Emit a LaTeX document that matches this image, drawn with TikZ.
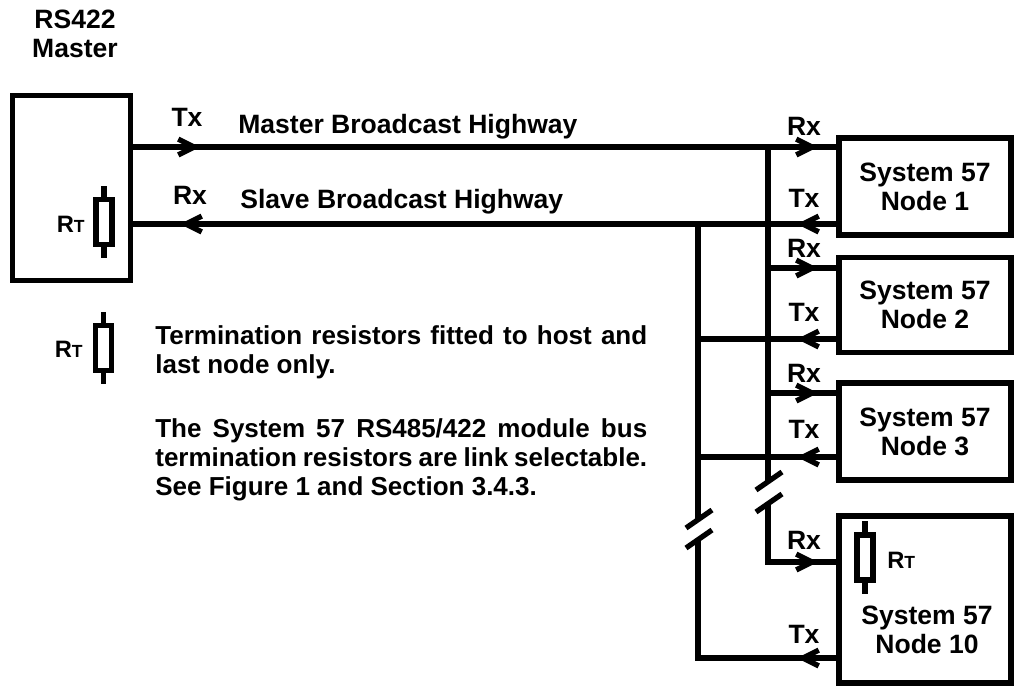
\documentclass[tikz,border=0pt]{standalone}
\usepackage{fontspec}
\setmainfont{Liberation Sans}
\usetikzlibrary{arrows.meta}
\newcommand\txtfont{\fontsize{15.1}{16.5}\selectfont\bfseries}
\newcommand\notefont{\fontsize{14.8}{16.5}\selectfont\bfseries}
\newcommand\rterm{{\fontsize{13.5}{14}\selectfont R}{\fontsize{10}{10}\selectfont T}}

\begin{document}
\begin{tikzpicture}[x=0.02cm,y=-0.02cm,line cap=butt]
  \tikzset{
    wire/.style={line width=3pt},
    unit/.style={draw,line width=3pt,inner sep=0pt,minimum width=3.44cm,align=center,font=\txtfont},
    resistor/.style={draw,line width=3pt,inner sep=0pt,minimum width=0.32cm,minimum height=0.9cm},
    barb/.style={wire,-{Straight Barb[length=9pt,width=9pt]}},
    txt/.style={font=\txtfont,inner sep=0pt},
    note/.style={font=\notefont,inner sep=0pt,anchor=north west,align=left}
  }
  \useasboundingbox (0,0) rectangle (1015,687);

  % Master unit
  \node[txt,align=center] (mtitle) at (75,34) {RS422\\Master};
  \node[unit,minimum width=2.36cm,minimum height=3.7cm] (master) at (71.5,188) {};
  \node[resistor] (rm) at (104,222) {};
  \draw[wire] (rm.north) -- ++(0,-11) (rm.south) -- ++(0,11);
  \node[txt,anchor=base east] (rmlab) at (85,232) {\rterm};

  % Slave units
  \node[unit,minimum height=1.94cm] (n1) at (925,186.5) {System 57\\Node 1};
  \node[unit,minimum height=1.9cm] (n2) at (925,305) {System 57\\Node 2};
  \node[unit,minimum height=1.94cm] (n3) at (925,431.5) {System 57\\Node 3};
  \node[unit,minimum height=3.34cm] (n10) at (925,599.5) {};
  \node[txt,align=center] (n10lab) at (927,630) {System 57\\Node 10};
  \node[resistor] (r10) at (865,557.5) {};
  \draw[wire] (r10.north) -- ++(0,-11) (r10.south) -- ++(0,11);
  \node[txt,anchor=base west] (r10lab) at (887,568) {\rterm};

  % Highways
  \draw[wire] (master.east |- 0,147) -- (n1.west |- 0,147);
  \draw[wire] (master.east |- 0,224) -- (n1.west |- 0,224);
  \node[txt] (mtx) at (187,117) {Tx};
  \node[txt] (mrx) at (190,195) {Rx};
  \node[txt,anchor=base west] (mhw) at (238,133) {Master Broadcast Highway};
  \node[txt,anchor=base west] (shw) at (240,208) {Slave Broadcast Highway};
  \draw[barb] (170,147) -- (200,147);
  \draw[barb] (210,224) -- (180,224);

  % Receive bus
  \draw[wire] (768,147) -- (768,481);
  \draw[wire] (768,503) -- (768,562) -- (n10.west |- 0,562);
  \draw[wire] (768,268) -- (n2.west |- 0,268);
  \draw[wire] (768,393) -- (n3.west |- 0,393);
  % Transmit bus
  \draw[wire] (698,224) -- (698,519);
  \draw[wire] (698,539) -- (698,658) -- (n10.west |- 0,658);
  \draw[wire] (698,339) -- (n2.west |- 0,339);
  \draw[wire] (698,457) -- (n3.west |- 0,457);
  % Break marks
  \draw[wire] (756,490) -- (782,472) (756,512) -- (782,494);
  \draw[wire] (686,528) -- (712,510) (686,548) -- (712,530);

  % Port arrows and labels
  \foreach \y in {147,268,393,562} \draw[barb] (788,\y) -- (818,\y);
  \foreach \y in {224,339,457,658} \draw[barb] (827,\y) -- (797,\y);
  \foreach \lab/\y [count=\i] in {Rx/126,Tx/198,Rx/248,Tx/312,Rx/373,Tx/429,Rx/540,Tx/634}
    \node[txt] (port\i) at (804,\y) {\lab};

  % Key and notes
  \node[resistor] (rkey) at (103.5,348) {};
  \draw[wire] (rkey.north) -- ++(0,-11) (rkey.south) -- ++(0,11);
  \node[txt,anchor=base east] (rkeylab) at (83,357) {\rterm};
  \node[note] (note1) at (155,325)
    {\makebox[9.84cm][s]{Termination resistors fitted to host and}\\last node only.};
  \node[note] (note2) at (155,418)
    {\makebox[9.84cm][s]{The System 57 RS485/422 module bus}\\
     \makebox[9.84cm][s]{termination resistors are link selectable.}\\
     See Figure 1 and Section 3.4.3.};
\end{tikzpicture}
\end{document}
